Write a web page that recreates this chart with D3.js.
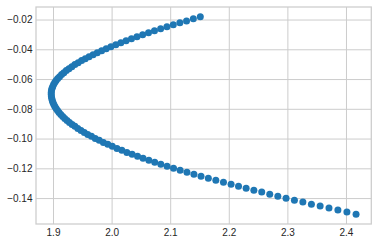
<!DOCTYPE html>
<html>
<head>
<meta charset="utf-8">
<script src="https://cdn.jsdelivr.net/npm/d3@7"></script>
<style>
  body { margin: 0; background: #fff; }
  text { font-family: "Liberation Sans", Arial, sans-serif; }
</style>
</head>
<body>
<div id="scatter"></div>
<script>
// point values
var xs = [2.1514, 2.1395, 2.1279, 2.1165, 2.1053, 2.0944, 2.0837, 2.0732, 2.0630, 2.0530,
          2.0433, 2.0339, 2.0247, 2.0158, 2.0072, 1.9988, 1.9908, 1.9830, 1.9755, 1.9684,
          1.9615, 1.9550, 1.9488, 1.9429, 1.9373, 1.9321, 1.9272, 1.9227, 1.9185, 1.9147,
          1.9112, 1.9081, 1.9053, 1.9030, 1.9010, 1.8994, 1.8982, 1.8974, 1.8970, 1.8970,
          1.8973, 1.8979, 1.8988, 1.8999, 1.9014, 1.9032, 1.9053, 1.9077, 1.9103, 1.9133,
          1.9166, 1.9201, 1.9240, 1.9281, 1.9326, 1.9374, 1.9424, 1.9478, 1.9534, 1.9593,
          1.9656, 1.9721, 1.9789, 1.9860, 1.9935, 2.0012, 2.0092, 2.0175, 2.0261, 2.0350,
          2.0443, 2.0537, 2.0636, 2.0736, 2.0840, 2.0947, 2.1057, 2.1170, 2.1286, 2.1405,
          2.1526, 2.1651, 2.1779, 2.1909, 2.2039, 2.2166, 2.2296, 2.2428, 2.2562, 2.2699,
          2.2837, 2.2977, 2.3120, 2.3264, 2.3410, 2.3559, 2.3710, 2.3862, 2.4016, 2.4172];
var ys = [-0.0182, -0.0195, -0.0209, -0.0222, -0.0235, -0.0249, -0.0262, -0.0276, -0.0289, -0.0302,
          -0.0316, -0.0329, -0.0343, -0.0356, -0.0369, -0.0383, -0.0396, -0.0410, -0.0423, -0.0436,
          -0.0450, -0.0463, -0.0476, -0.0490, -0.0503, -0.0517, -0.0530, -0.0543, -0.0557, -0.0570,
          -0.0584, -0.0597, -0.0610, -0.0624, -0.0637, -0.0651, -0.0664, -0.0677, -0.0691, -0.0704,
          -0.0718, -0.0731, -0.0744, -0.0758, -0.0771, -0.0785, -0.0798, -0.0811, -0.0825, -0.0838,
          -0.0852, -0.0865, -0.0878, -0.0892, -0.0905, -0.0918, -0.0932, -0.0945, -0.0959, -0.0972,
          -0.0985, -0.0999, -0.1012, -0.1026, -0.1039, -0.1052, -0.1066, -0.1079, -0.1093, -0.1106,
          -0.1119, -0.1133, -0.1146, -0.1160, -0.1173, -0.1186, -0.1200, -0.1213, -0.1227, -0.1240,
          -0.1253, -0.1267, -0.1280, -0.1294, -0.1307, -0.1320, -0.1334, -0.1347, -0.1360, -0.1374,
          -0.1387, -0.1401, -0.1414, -0.1427, -0.1441, -0.1454, -0.1467, -0.1481, -0.1494, -0.1508];
var xTicks = [1.9, 2.0, 2.1, 2.2, 2.3, 2.4];
var yTicks = [-0.02, -0.04, -0.06, -0.08, -0.10, -0.12, -0.14];

var data = xs.map(function (x, i) { return { x: x, y: ys[i] }; });

// set the dimensions and margins of the graph
var margin = { top: 7, right: 6.7, bottom: 20, left: 36 },
    width = 378 - margin.left - margin.right,
    height = 244 - margin.top - margin.bottom;

var svg = d3.select("#scatter")
    .append("svg")
    .attr("width", 378)
    .attr("height", 244)
    .append("g")
    .attr("transform", "translate(" + margin.left + "," + margin.top + ")");

// matplotlib style 5% padding around the data
function padded(ext) {
    var p = (ext[1] - ext[0]) * 0.05;
    return [ext[0] - p, ext[1] + p];
}

var x = d3.scaleLinear()
    .domain(padded(d3.extent(xs)))
    .range([0, width]);
var y = d3.scaleLinear()
    .domain(padded(d3.extent(ys)))
    .range([height, 0]);

// grid
svg.append("g")
    .attr("transform", "translate(0," + height + ")")
    .call(d3.axisBottom(x).tickValues(xTicks).tickSize(-height).tickFormat(""))
    .call(function (g) { g.select(".domain").remove(); })
    .selectAll("line").attr("stroke", "#cccccc").attr("stroke-width", 1);
svg.append("g")
    .call(d3.axisLeft(y).tickValues(yTicks).tickSize(-width).tickFormat(""))
    .call(function (g) { g.select(".domain").remove(); })
    .selectAll("line").attr("stroke", "#cccccc").attr("stroke-width", 1);

// frame
svg.append("rect")
    .attr("width", width)
    .attr("height", height)
    .attr("fill", "none")
    .attr("stroke", "#cccccc")
    .attr("stroke-width", 1.25);

// tick labels
var xAxis = svg.append("g")
    .attr("transform", "translate(0," + height + ")")
    .call(d3.axisBottom(x).tickValues(xTicks).tickSize(0).tickPadding(5).tickFormat(d3.format(".1f")));
xAxis.select(".domain").remove();
xAxis.selectAll("text").style("font-size", "10px").attr("fill", "#262626");

var yAxis = svg.append("g")
    .call(d3.axisLeft(y).tickValues(yTicks).tickSize(0).tickPadding(3.5).tickFormat(d3.format(".2f")));
yAxis.select(".domain").remove();
yAxis.selectAll("text").style("font-size", "10px").attr("fill", "#262626");

// Add dots
svg.append("g")
    .selectAll("circle")
    .data(data)
    .enter()
    .append("circle")
    .attr("cx", function (d) { return x(d.x); })
    .attr("cy", function (d) { return y(d.y); })
    .attr("r", 3.5)
    .style("fill", "#1f77b4");
</script>
</body>
</html>
